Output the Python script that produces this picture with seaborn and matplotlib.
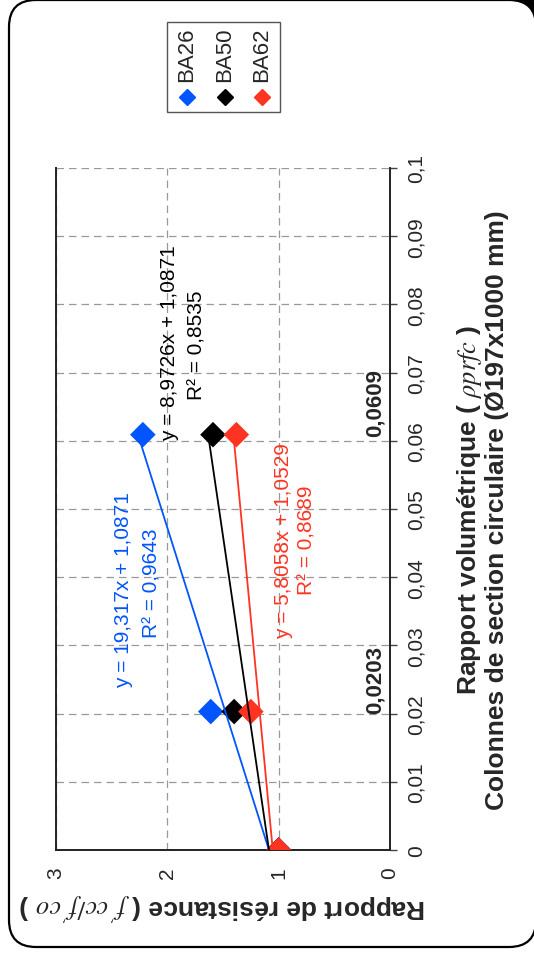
import numpy as np
import pandas as pd
import seaborn as sns
import matplotlib.pyplot as plt
from matplotlib.patches import FancyBboxPatch, Rectangle
from matplotlib.lines import Line2D

# data
series = ["BA26", "BA50", "BA62"]
colors = ["#0055ff", "#000000", "#ff3322"]
ratio = [0.0, 0.0203, 0.0609]
ba26 = [1.0, 1.61, 2.22]
ba50 = [1.0, 1.40, 1.59]
ba62 = [1.0, 1.25, 1.38]
slopes = [19.317, 8.9726, 5.8058]
intercepts = [1.0871, 1.0871, 1.0529]
equations = ["y = 19,317x + 1,0871", "y = 8,9726x + 1,0871", "y = 5,8058x + 1,0529"]
r2_labels = ["R² = 0,9643", "R² = 0,8535", "R² = 0,8689"]
ratio_ticks = [0, 0.01, 0.02, 0.03, 0.04, 0.05, 0.06, 0.07, 0.08, 0.09, 0.1]
ratio_tick_labels = ["0", "0,01", "0,02", "0,03", "0,04", "0,05", "0,06",
                     "0,07", "0,08", "0,09", "0,1"]
res_ticks = [0, 1, 2, 3]
marked_ratios = [0.0203, 0.0609]
marked_labels = ["0,0203", "0,0609"]


def main() -> None:
    sns.set_style("white")
    plt.rcParams["font.family"] = ["Liberation Sans", "DejaVu Sans"]
    plt.rcParams["mathtext.fontset"] = "stix"

    df = pd.DataFrame({
        "ratio": ratio * 3,
        "resistance": ba26 + ba50 + ba62,
        "series": np.repeat(series, len(ratio)),
    })

    fig = plt.figure(figsize=(5.34, 9.54), dpi=100)
    fig.patch.set_facecolor("white")

    # rounded frame (inch coordinates)
    fig.add_artist(Rectangle((4.9, 9.1), 0.5, 0.5, transform=fig.dpi_scale_trans,
                             facecolor="black", edgecolor="none", zorder=-3))
    fig.add_artist(FancyBboxPatch((0.09, 0.06), 5.27, 9.47,
                                  boxstyle="round,pad=0,rounding_size=0.27",
                                  transform=fig.dpi_scale_trans,
                                  facecolor="white", edgecolor="black",
                                  linewidth=1.6, zorder=-2))

    ax = fig.add_axes([56 / 534, 1 - 851 / 954, (390 - 56) / 534, (851 - 169) / 954])
    ax.set_facecolor("none")

    # chart is drawn rotated: resistance runs right-to-left, ratio bottom-to-top
    sns.scatterplot(data=df, x="resistance", y="ratio", hue="series",
                    palette=dict(zip(series, colors)), marker="D", s=170,
                    edgecolor="none", legend=False, ax=ax, zorder=3)

    fit_x = np.array([0.0, 0.0609])
    for slope, icpt, col in zip(slopes, intercepts, colors):
        sns.lineplot(x=slope * fit_x + icpt, y=fit_x, sort=False, color=col,
                     linewidth=1.3, ax=ax, zorder=4)

    ax.set_xlim(3, 0)
    ax.set_ylim(0, 0.1)
    ax.set_xticks(res_ticks)
    ax.set_xticklabels([str(t) for t in res_ticks], rotation=90, fontsize=15)
    ax.set_yticks(ratio_ticks)
    ax.set_yticklabels(ratio_tick_labels, rotation=90, fontsize=15, va="center")
    ax.yaxis.tick_right()
    ax.tick_params(axis="both", direction="out", length=5, width=1, color="#444444")
    ax.tick_params(axis="y", pad=7)
    ax.tick_params(axis="x", pad=7)

    ax.grid(True, linestyle=(0, (6, 4)), color="#999999", linewidth=0.9)
    for side in ["left", "bottom", "right"]:
        ax.spines[side].set_visible(True)
        ax.spines[side].set_color("#222222")
        ax.spines[side].set_linewidth(1.4)
    ax.spines["top"].set_visible(False)

    ax.set_xlabel("Rapport de résistance ( $f'cc/f'co$ )", rotation=180,
                  fontsize=19, fontweight="bold", va="center", ha="center")
    ax.xaxis.set_label_coords(0.5, -(907 - 851) / 682)
    ax.yaxis.set_label_position("right")
    ax.set_ylabel("Rapport volumétrique ( $\\rho prfc$ )\n"
                  "Colonnes de section circulaire (Ø197x1000 mm)",
                  rotation=90, fontsize=19, fontweight="bold",
                  va="center", ha="center", linespacing=1.05)
    ax.yaxis.set_label_coords((482 - 56) / 334, 0.5)

    # trendline equations
    eq_pos = [(2.39, 0.0383), (1.976, 0.0745), (0.952, 0.0455)]
    r2_pos = [(2.14, 0.0393), (1.734, 0.0742), (0.746, 0.0456)]
    for eq, r2, p, q, col in zip(equations, r2_labels, eq_pos, r2_pos, colors):
        ax.text(p[0], p[1], eq, rotation=90, color=col, fontsize=15,
                ha="center", va="center")
        ax.text(q[0], q[1], r2, rotation=90, color=col, fontsize=15,
                ha="center", va="center")

    for r, lab in zip(marked_ratios, marked_labels):
        ax.text(0.135, r + 0.0048, lab, rotation=90, fontsize=16,
                fontweight="bold", ha="center", va="center")

    # legend, drawn rotated by hand
    fig.add_artist(Rectangle((167 / 534, 1 - 113 / 954), 113 / 534, 90 / 954,
                             transform=fig.transFigure, facecolor="white",
                             edgecolor="#555555", linewidth=1))
    for i, (name, col) in enumerate(zip(series, colors)):
        xp = (187 + 37.5 * i) / 534
        fig.text(xp, 1 - 55 / 954, name, rotation=90, fontsize=16,
                 ha="center", va="center")
        fig.add_artist(Line2D([xp], [1 - 98 / 954], marker="D", markersize=8,
                              color=col, linestyle="none",
                              transform=fig.transFigure))

    fig.savefig("out.png", dpi=100)
    plt.close(fig)


if __name__ == "__main__":
    main()
